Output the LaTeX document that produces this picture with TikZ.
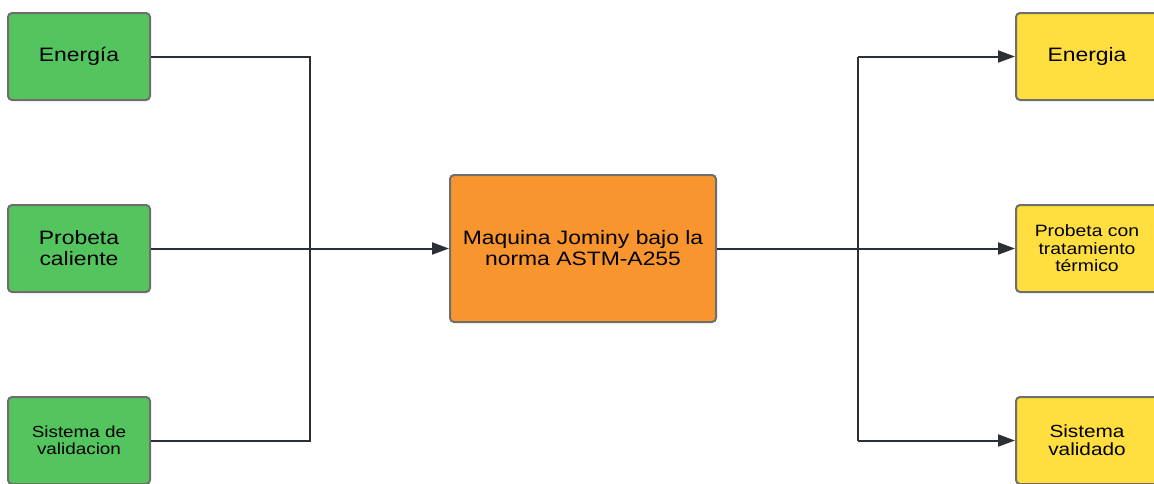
\documentclass[tikz,border=0pt]{standalone}
\usepackage{fontspec}
\setmainfont{Liberation Sans}[FakeStretch=1.18]
\usetikzlibrary{positioning,arrows.meta}
\definecolor{boxgreen}{HTML}{54C45E}
\definecolor{boxorange}{HTML}{F9952F}
\definecolor{boxyellow}{HTML}{FFDF3F}
\definecolor{boxline}{HTML}{6E6E6E}
\definecolor{wire}{HTML}{2B2F36}

\begin{document}
\begin{tikzpicture}[x=0.5pt, y=-0.5pt,
	box/.style={draw=boxline, line width=1pt, rounded corners=2pt, align=center,
		minimum width=71pt, minimum height=43.5pt, inner sep=2pt},
	inbox/.style={box, fill=boxgreen},
	outbox/.style={box, fill=boxyellow},
	wire/.style={draw=wire, line width=1pt},
	flow/.style={wire, -{Triangle[length=8.5pt, width=6pt]}},
	big/.style={font=\fontsize{9.7}{10.5}\selectfont},
	small/.style={font=\fontsize{8}{8.7}\selectfont}]
	\useasboundingbox (0,0) rectangle (1154,483);
	
	\node[inbox, big] (a1) at (79,56.5) {Energía};
	\node[inbox, big, below=51.5pt of a1] (a2) {Probeta\\caliente};
	\node[inbox, small, below=51.5pt of a2] (a3) {Sistema de\\validacion};
	
	\node[box, fill=boxorange, big, minimum width=133pt, minimum height=73.5pt,
		right=149pt of a2] (b) {Maquina Jominy bajo la\\norma ASTM-A255};
	
	\node[outbox, font=\fontsize{8.2}{8.8}\selectfont, right=149pt of b] (c2) {Probeta con\\tratamiento\\térmico};
	\node[outbox, big, above=51.5pt of c2] (c1) {Energia};
	\node[outbox, font=\fontsize{8.8}{9}\selectfont, below=51.5pt of c2] (c3) {Sistema\\validado};
	
	\coordinate[right=79.5pt of a1.east] (bl);
	\coordinate[right=70.5pt of b.east] (br);
	
	\draw[wire] (a1.east) -- (a1.east -| bl) -- (a3.east -| bl) -- (a3.east);
	\draw[flow] (a2) -- (b);
	\draw[flow] (b) -- (c2);
	\draw[wire] (br |- c1) -- (br |- c3);
	\draw[flow] (br |- c1) -- (c1);
	\draw[flow] (br |- c3) -- (c3);
\end{tikzpicture}
\end{document}
